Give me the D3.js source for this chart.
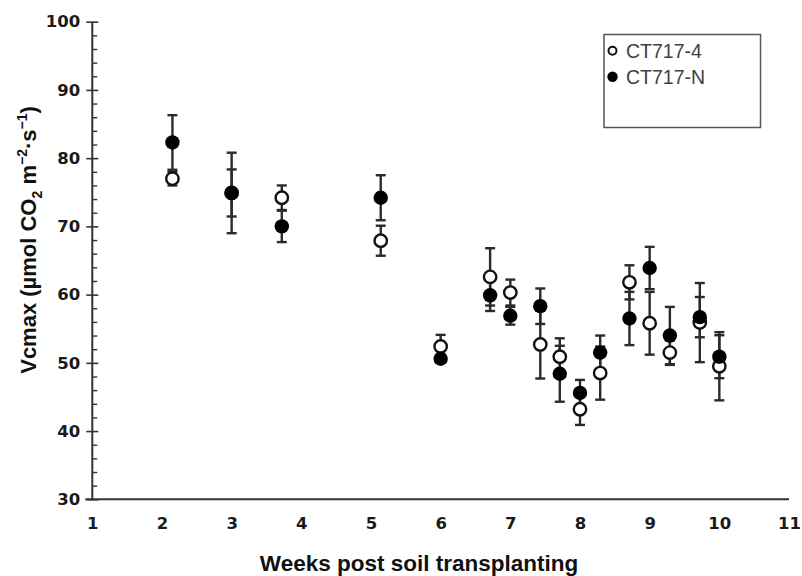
<!DOCTYPE html>
<html>
<head>
<meta charset="utf-8">
<script src="https://cdn.jsdelivr.net/npm/d3@7"></script>
<style>
  html, body { margin: 0; padding: 0; background: #fff; }
  svg { display: block; }
</style>
</head>
<body>
<svg id="chart" width="802" height="576"></svg>
<script>
// Sampling weeks after soil transplanting
const weeks = [2.15, 3.0, 3.72, 5.14, 6.0, 6.71, 7.0, 7.43, 7.71, 8.0, 8.29, 8.71, 9.0, 9.29, 9.72, 10.0];

// CT717-4 (open circles): Vcmax mean and error
const ct4Mean = [77.0, 74.9, 74.2, 67.9, 52.4, 62.6, 60.3, 52.7, 50.9, 43.2, 48.5, 61.8, 55.8, 51.5, 55.9, 49.5];
const ct4Err  = [1.0, 3.45, 1.8, 2.2, 1.7, 4.2, 1.9, 5.0, 2.7, 2.3, 3.9, 2.5, 4.6, 1.8, 5.8, 5.0];

// CT717-N (filled circles): Vcmax mean and error
const ctNMean = [82.3, 74.9, 70.0, 74.2, 50.6, 59.9, 56.9, 58.3, 48.4, 45.6, 51.5, 56.5, 63.9, 54.0, 56.7, 50.9];
const ctNErr  = [4.0, 5.9, 2.3, 3.3, 0.6, 2.3, 1.3, 2.6, 4.1, 1.9, 2.5, 3.9, 3.1, 4.2, 2.95, 3.15];

const xTicks = [1, 2, 3, 4, 5, 6, 7, 8, 9, 10, 11];
const yTicks = [30, 40, 50, 60, 70, 80, 90, 100];
const yMinorTicks = d3.range(30, 100.1, 2);

const seriesNames = ["CT717-4", "CT717-N"];

const svg = d3.select("#chart");
const x = d3.scaleLinear().domain([1, 11]).range([92.3, 789]);
const y = d3.scaleLinear().domain([30, 100]).range([499.3, 21.7]);

const axisColor = "#333";
const x0 = x(1);

// Y axis: major ticks crossing the line, minor ticks inside
const yAxisG = svg.append("g").attr("transform", `translate(${x0},0)`);
yAxisG.call(d3.axisLeft(y).tickValues(yTicks).tickSize(6).tickPadding(6).tickFormat(d3.format("d")));
yAxisG.select(".domain").remove();
yAxisG.selectAll(".tick line").attr("stroke", axisColor).attr("stroke-width", 1.6).attr("x2", 6).attr("x1", -6);
yAxisG.selectAll(".tick text")
  .attr("fill", "#1a1a1a")
  .attr("font-family", "DejaVu Sans, Verdana, sans-serif")
  .attr("font-weight", "bold")
  .attr("font-size", 16.5);

const yMinorG = svg.append("g").attr("transform", `translate(${x0},0)`);
yMinorG.call(d3.axisRight(y).tickValues(yMinorTicks.filter(v => v % 10 !== 0)).tickSize(5).tickFormat(""));
yMinorG.select(".domain").remove();
yMinorG.selectAll(".tick line").attr("stroke", axisColor).attr("stroke-width", 1.4);

svg.append("line")
  .attr("x1", x0).attr("x2", x0)
  .attr("y1", y(100)).attr("y2", y(30))
  .attr("stroke", axisColor).attr("stroke-width", 2);

// X axis: line and labels only
const xAxisG = svg.append("g").attr("transform", `translate(0,${y(30)})`);
xAxisG.call(d3.axisBottom(x).tickValues(xTicks).tickSize(0).tickPadding(18).tickFormat(d3.format("d")));
xAxisG.select(".domain").remove();
xAxisG.selectAll(".tick text")
  .attr("fill", "#1a1a1a")
  .attr("font-family", "DejaVu Sans, Verdana, sans-serif")
  .attr("font-weight", "bold")
  .attr("font-size", 16.5);
svg.append("line")
  .attr("x1", x0 - 7).attr("x2", x(11))
  .attr("y1", y(30)).attr("y2", y(30))
  .attr("stroke", axisColor).attr("stroke-width", 2);

// Axis titles
svg.append("text")
  .attr("x", 419).attr("y", 571)
  .attr("text-anchor", "middle")
  .attr("font-family", "Liberation Sans, Arial, sans-serif")
  .attr("font-weight", "bold")
  .attr("font-size", 22.5)
  .attr("fill", "#111")
  .text("Weeks post soil transplanting");

const yTitle = svg.append("text")
  .attr("transform", "translate(36,240) rotate(-90)")
  .attr("text-anchor", "middle")
  .attr("font-family", "Liberation Sans, Arial, sans-serif")
  .attr("font-weight", "bold")
  .attr("font-size", 22)
  .attr("fill", "#111");
yTitle.append("tspan").text("Vcmax (µmol CO");
yTitle.append("tspan").attr("font-size", 14).attr("dy", 6).text("2");
yTitle.append("tspan").attr("dy", -6).text(" m");
yTitle.append("tspan").attr("font-size", 14).attr("dy", -9).text("−2");
yTitle.append("tspan").attr("dy", 9).text("·s");
yTitle.append("tspan").attr("font-size", 14).attr("dy", -9).text("−1");
yTitle.append("tspan").attr("dy", 9).text(")");

// Error bars for both series
const errData = [];
weeks.forEach((w, i) => {
  errData.push({ w, m: ct4Mean[i], e: ct4Err[i] });
  errData.push({ w, m: ctNMean[i], e: ctNErr[i] });
});
const capHalf = 5;
const errG = svg.append("g").attr("stroke", "#2b2b2b").attr("stroke-width", 2.4).attr("fill", "none");
errData.forEach(d => {
  const cx = x(d.w);
  errG.append("line").attr("x1", cx).attr("x2", cx).attr("y1", y(d.m + d.e)).attr("y2", y(d.m - d.e));
  errG.append("line").attr("x1", cx - capHalf).attr("x2", cx + capHalf).attr("y1", y(d.m + d.e)).attr("y2", y(d.m + d.e));
  errG.append("line").attr("x1", cx - capHalf).attr("x2", cx + capHalf).attr("y1", y(d.m - d.e)).attr("y2", y(d.m - d.e));
});

// Open circles (CT717-4)
svg.append("g").selectAll("circle")
  .data(weeks.map((w, i) => ({ w, m: ct4Mean[i] })))
  .join("circle")
  .attr("cx", d => x(d.w)).attr("cy", d => y(d.m))
  .attr("r", 6.2)
  .attr("fill", "#fff").attr("stroke", "#111").attr("stroke-width", 2.4);

// Filled circles (CT717-N)
svg.append("g").selectAll("circle")
  .data(weeks.map((w, i) => ({ w, m: ctNMean[i] })))
  .join("circle")
  .attr("cx", d => x(d.w)).attr("cy", d => y(d.m))
  .attr("r", 7.2)
  .attr("fill", "#000");

// Legend
const lg = svg.append("g");
lg.append("rect")
  .attr("x", 604).attr("y", 34.5).attr("width", 156.5).attr("height", 93)
  .attr("fill", "#fff").attr("stroke", "#555").attr("stroke-width", 1.5);
lg.append("circle").attr("cx", 612.5).attr("cy", 50.7).attr("r", 4)
  .attr("fill", "#fff").attr("stroke", "#111").attr("stroke-width", 2);
lg.append("circle").attr("cx", 612.5).attr("cy", 76.7).attr("r", 5.2).attr("fill", "#000");
lg.selectAll("text.lgt")
  .data(seriesNames)
  .join("text")
  .attr("class", "lgt")
  .attr("x", 626).attr("y", (d, i) => 57.5 + i * 26.3)
  .attr("font-family", "Liberation Sans, Arial, sans-serif")
  .attr("font-size", 19.5)
  .attr("fill", "#404040")
  .text(d => d);
</script>
</body>
</html>
